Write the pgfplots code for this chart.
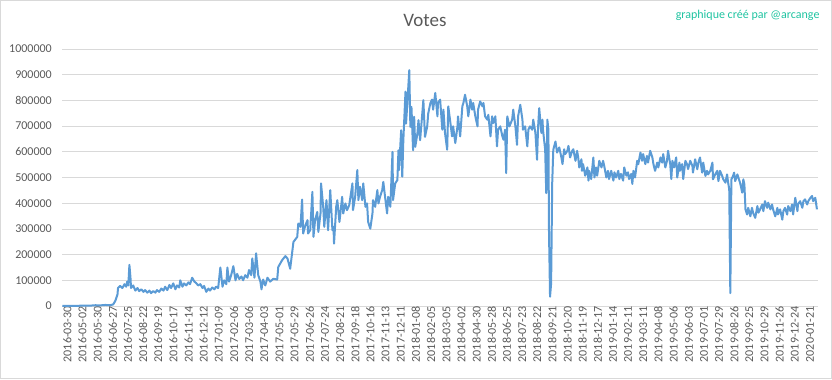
\documentclass[border=0pt]{standalone}
\usepackage{fontspec}
\setmainfont{Carlito}
\usepackage{pgfplots}
\usepackage{pgfplotstable}
\pgfplotsset{compat=1.18}
\definecolor{linec}{RGB}{91,155,213}
\definecolor{gridc}{RGB}{217,217,217}
\definecolor{txt}{RGB}{89,89,89}
\definecolor{wm}{RGB}{30,195,160}
\pgfplotstableread{
x y
0 500
15 800
33 1000
52 1500
61 3000
70 2500
79 4000
89 3500
94 6000
98 20000
102 45000
103 70000
107 78000
111 70000
115 85000
118 75000
120 95000
122 80000
124 160000
126 110000
127 70000
131 80000
135 60000
139 70000
142 58000
146 65000
150 55000
153 62000
157 52000
161 60000
164 50000
168 58000
172 52000
175 62000
179 55000
183 68000
187 60000
190 75000
194 62000
198 82000
201 70000
205 88000
209 65000
212 80000
216 72000
218 100000
222 75000
225 88000
229 80000
233 92000
236 85000
240 110000
244 95000
247 90000
251 80000
255 85000
259 70000
262 78000
266 55000
270 68000
273 60000
277 72000
281 65000
284 75000
288 70000
292 150000
296 75000
299 100000
303 85000
305 150000
308 95000
312 120000
316 155000
320 100000
323 125000
327 105000
331 115000
334 100000
338 120000
342 110000
345 140000
349 120000
351 185000
355 110000
358 205000
362 120000
366 95000
368 65000
371 103000
375 80000
379 110000
384 95000
390 106000
397 103000
399 152000
406 178000
412 194000
416 185000
421 145000
427 249000
434 269000
436 321000
440 308000
443 414000
445 282000
449 314000
453 334000
454 282000
458 295000
462 444000
464 269000
467 334000
471 366000
473 288000
477 360000
478 477000
482 386000
484 308000
488 412000
491 295000
495 451000
499 295000
501 308000
502 243000
506 386000
508 412000
512 327000
517 425000
519 360000
523 399000
526 373000
530 392000
536 477000
537 373000
541 425000
545 529000
547 412000
550 464000
554 412000
556 477000
560 386000
563 399000
565 327000
569 301000
573 360000
574 412000
578 386000
582 451000
584 399000
587 425000
591 451000
593 483000
597 412000
600 360000
602 425000
606 386000
610 600000
611 412000
615 477000
619 490000
621 606000
622 529000
626 684000
628 503000
630 645000
634 834000
635 710000
637 775000
641 918000
643 697000
645 775000
648 606000
650 736000
652 619000
656 671000
658 723000
661 645000
667 801000
670 658000
674 697000
676 749000
680 790000
683 803000
685 764000
689 829000
693 738000
694 790000
698 803000
702 686000
704 764000
707 673000
711 608000
713 777000
717 712000
720 660000
722 699000
726 634000
730 699000
731 738000
735 660000
739 777000
741 790000
744 822000
748 777000
750 738000
754 803000
757 764000
759 790000
763 738000
767 699000
768 764000
772 796000
776 777000
778 790000
781 738000
785 725000
787 744000
791 660000
794 738000
796 712000
800 738000
803 621000
805 686000
809 699000
813 660000
815 647000
818 686000
820 517000
822 738000
826 699000
831 725000
833 764000
837 699000
840 627000
842 738000
846 783000
850 725000
851 686000
855 699000
859 621000
861 686000
864 699000
868 686000
870 725000
874 673000
877 569000
879 699000
881 770000
885 673000
887 725000
888 686000
892 608000
894 439000
896 725000
898 686000
899 300000
901 36000
903 88000
905 478000
907 608000
911 640000
914 597000
918 617000
922 578000
924 552000
927 610000
929 591000
933 604000
935 623000
938 578000
942 604000
944 610000
948 565000
951 604000
953 578000
955 539000
959 571000
960 526000
962 552000
966 507000
970 539000
972 488000
973 526000
977 494000
981 578000
983 500000
986 539000
988 507000
992 565000
996 539000
999 565000
1001 546000
1005 500000
1008 526000
1010 494000
1014 526000
1018 488000
1020 520000
1023 500000
1027 526000
1029 494000
1032 514000
1036 488000
1038 539000
1042 507000
1045 520000
1047 494000
1051 514000
1053 475000
1055 526000
1058 500000
1062 565000
1064 552000
1068 597000
1071 565000
1073 591000
1077 552000
1080 584000
1082 558000
1086 604000
1090 578000
1092 552000
1095 526000
1099 558000
1101 539000
1105 578000
1108 558000
1110 591000
1114 539000
1117 565000
1119 604000
1123 552000
1125 494000
1127 565000
1130 539000
1134 578000
1136 500000
1140 558000
1141 526000
1145 552000
1147 494000
1151 565000
1154 552000
1156 533000
1160 565000
1164 545000
1165 519000
1169 571000
1173 532000
1175 558000
1178 578000
1182 519000
1184 558000
1188 506000
1191 526000
1193 512000
1197 526000
1201 558000
1202 493000
1206 512000
1210 526000
1212 486000
1215 526000
1219 506000
1221 493000
1225 480000
1228 512000
1230 480000
1232 454000
1234 50000
1236 493000
1239 506000
1241 519000
1243 486000
1247 512000
1249 499000
1252 480000
1256 441000
1258 493000
1260 473000
1262 376000
1265 356000
1267 382000
1271 349000
1274 382000
1276 363000
1280 343000
1284 389000
1286 363000
1289 376000
1293 395000
1295 369000
1298 408000
1302 382000
1304 402000
1308 376000
1311 395000
1313 376000
1317 349000
1321 382000
1322 356000
1326 376000
1330 336000
1332 369000
1335 382000
1339 356000
1341 389000
1345 369000
1348 395000
1350 356000
1354 421000
1358 369000
1359 395000
1363 408000
1367 382000
1369 408000
1372 415000
1376 395000
1378 408000
1382 421000
1385 428000
1387 408000
1391 421000
1394 376000
}\votes
\begin{document}
\begin{tikzpicture}[x=1bp,y=1bp]
\useasboundingbox (0,0) rectangle (832,379);
\draw[gridc, line width=0.75bp] (0.4,0.4) rectangle (831.6,378.6);
\begin{axis}[
  at={(62bp,73bp)}, anchor=south west,
  width=756bp, height=257bp, scale only axis,
  xmin=-0.5, xmax=1396, ymin=0, ymax=1000000,
  scaled y ticks=false, scaled x ticks=false,
  axis line style={draw=none},
  major tick length=0pt,
  ymajorgrids, grid style={gridc, line width=0.75bp},
  ytick={0,100000,200000,300000,400000,500000,600000,700000,800000,900000,1000000},
  yticklabels={0,100000,200000,300000,400000,500000,600000,700000,800000,900000,1000000},
  xtick={0,28,56,84,112,140,168,196,224,252,280,308,336,364,392,420,448,476,504,532,560,588,616,644,672,700,728,756,784,812,840,868,896,924,952,980,1008,1036,1064,1092,1120,1148,1176,1204,1232,1260,1288,1316,1344,1372},
  xticklabels={2016-03-30,2016-05-02,2016-05-30,2016-06-27,2016-07-25,2016-08-22,2016-09-19,2016-10-17,2016-11-14,2016-12-12,2017-01-09,2017-02-06,2017-03-06,2017-04-03,2017-05-01,2017-05-29,2017-06-26,2017-07-24,2017-08-21,2017-09-18,2017-10-16,2017-11-13,2017-12-11,2018-01-08,2018-02-05,2018-03-05,2018-04-02,2018-04-30,2018-05-28,2018-06-25,2018-07-23,2018-08-22,2018-09-21,2018-10-20,2018-11-19,2018-12-17,2019-01-14,2019-02-11,2019-03-11,2019-04-08,2019-05-06,2019-06-03,2019-07-01,2019-07-29,2019-08-26,2019-09-25,2019-10-29,2019-11-26,2019-12-24,2020-01-21},
  xticklabel style={rotate=90, anchor=east, inner sep=0pt, yshift=-5bp, font=\fontsize{12bp}{14bp}\selectfont, text=txt},
  yticklabel style={anchor=east, inner sep=0pt, xshift=-10bp, font=\fontsize{12bp}{14bp}\selectfont, text=txt},
  /pgf/number format/assume math mode=true,
  clip=true,
]
\addplot[linec, line width=2bp, line join=round, no marks] table[x=x,y=y] {\votes};
\end{axis}
\node[text=txt, font=\fontsize{19bp}{22bp}\selectfont] at (425,359) {Votes};
\node[text=wm, anchor=east, font=\fontsize{12bp}{14bp}\selectfont] at (823,364) {graphique créé par @arcange};
\end{tikzpicture}
\end{document}
